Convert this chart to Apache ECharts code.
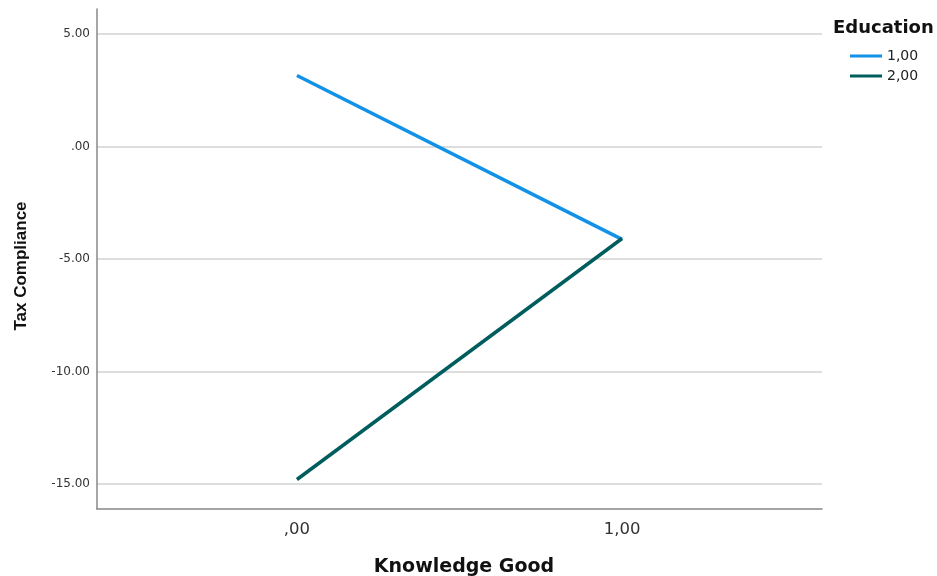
<!DOCTYPE html>
<html><head><meta charset="utf-8">
<script src="https://cdn.jsdelivr.net/npm/echarts@6/dist/echarts.min.js"></script>
<style>html,body{margin:0;padding:0;background:#fff}#c{width:937px;height:576px}</style>
</head><body><div id="c"></div>
<script>
const knowledgeX = [0, 1];
const xTickLabels = [',00', '1,00'];
const seriesNames = ['1,00', '2,00'];
const edu1 = [3.15, -4.13];
const edu2 = [-14.79, -4.09];
const yTicks = [5, 0, -5, -10, -15];
const colors = ['#1192e8', '#005d5d'];

const chart = echarts.init(document.getElementById('c'));
const mk = arr => knowledgeX.map((x, i) => [x, arr[i]]);
const F = 'DejaVu Sans';
chart.setOption({
  animation: false,
  color: colors,
  title: { text: 'Education', left: 833, top: 19, padding: 0, textStyle: { fontFamily: F, fontSize: 18, fontWeight: 'bold', color: '#111' } },
  legend: {
    orient: 'vertical', left: 850, top: 48, padding: 0, itemWidth: 32, itemHeight: 3, itemGap: 4, icon: 'rect',
    textStyle: { fontFamily: F, fontSize: 14, lineHeight: 16, color: '#222' },
    data: seriesNames
  },
  grid: { left: 97, right: 115, top: 9, bottom: 67, outerBoundsMode: 'none', containLabel: false },
  xAxis: {
    type: 'value', min: -0.615, max: 1.615,
    name: 'Knowledge Good', nameLocation: 'middle', nameGap: 49,
    nameTextStyle: { fontFamily: F, fontSize: 19, fontWeight: 'bold', color: '#111', padding: [0, 0, 0, 9] },
    axisLine: { show: true, onZero: false, lineStyle: { color: '#888', width: 1.5 } },
    axisTick: { show: false, customValues: knowledgeX },
    splitLine: { show: false },
    axisLabel: { customValues: knowledgeX, margin: 12, fontFamily: F, fontSize: 16.5, color: '#333',
      formatter: v => xTickLabels[knowledgeX.indexOf(v)] }
  },
  yAxis: {
    type: 'value', min: -16.1, max: 6.1,
    name: 'Tax Compliance', nameLocation: 'middle', nameGap: 67, nameRotate: 90,
    nameTextStyle: { fontFamily: 'Liberation Sans, Arial', fontSize: 17, fontWeight: 'bold', color: '#111', padding: [0, 14, 0, 0] },
    axisLine: { show: true, onZero: false, lineStyle: { color: '#888', width: 1.5 } },
    axisTick: { show: false, customValues: yTicks },
    splitLine: { show: true, lineStyle: { color: '#d2d2d2', width: 1.5 } },
    axisLabel: { customValues: yTicks, margin: 7, fontFamily: F, fontSize: 12, color: '#333',
      formatter: v => v === 0 ? '.00' : v.toFixed(2) }
  },
  series: [
    { name: seriesNames[0], type: 'line', data: mk(edu1), symbol: 'none', lineStyle: { width: 3.5 } },
    { name: seriesNames[1], type: 'line', data: mk(edu2), symbol: 'none', lineStyle: { width: 3.5 } }
  ]
});
</script></body></html>
